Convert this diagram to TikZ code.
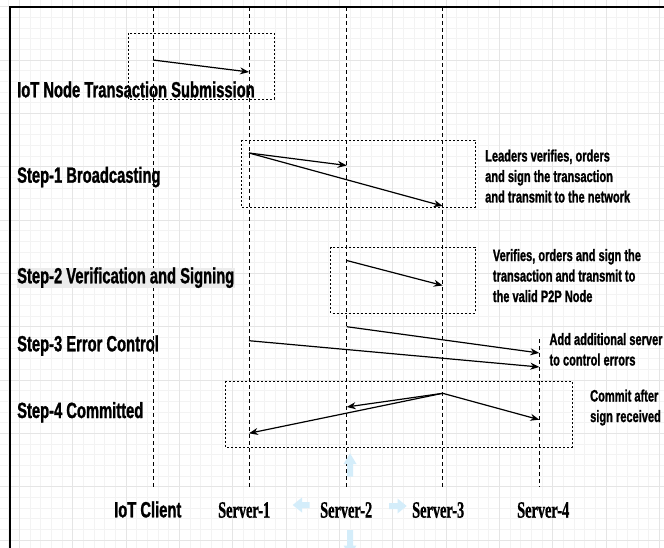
\documentclass[tikz,border=0pt]{standalone}
\usepackage{fontspec}
\usetikzlibrary{arrows.meta}
\newfontfamily\lblsans{Liberation Sans}[FakeStretch=0.67, FakeBold=1.2]
\newfontfamily\lblserif{Liberation Serif}[FakeStretch=0.61, FakeBold=0.8]
\definecolor{gridminor}{RGB}{243,243,243}
\definecolor{gridmajor}{RGB}{229,229,229}
\definecolor{hintblue}{RGB}{212,237,250}
\definecolor{labelbg}{RGB}{236,236,236}
\tikzset{
  lifeline/.style={draw=black, line width=0.9pt, dash pattern=on 4pt off 3pt},
  stagebox/.style={draw=black, line width=0.9pt, dash pattern=on 2pt off 2pt},
  msg/.style={draw=black, line width=1.2pt, -{Stealth[length=9pt,width=7pt]}},
  steplabel/.style={anchor=base west, inner sep=0pt, font=\lblsans\bfseries\fontsize{22}{26}\selectfont},
  note/.style={anchor=base west, inner sep=0pt, align=left, font=\lblsans\bfseries\fontsize{16.5}{20.5}\selectfont},
  actor/.style={anchor=base west, inner sep=0pt, font=\lblserif\bfseries\fontsize{23.5}{28}\selectfont},
  hint/.style={fill=hintblue, draw=none},
}
\begin{document}
\begin{tikzpicture}[x=1pt, y=-1pt]
\useasboundingbox (0,0) rectangle (664,548);
\clip (0,0) rectangle (664,548);
\fill[white] (0,0) rectangle (664,548);

% background grid
\foreach \i in {0,...,62}
  \draw[gridminor, line width=0.6pt] ({8.67+\i*10.667},0) -- ++(0,548);
\foreach \j in {-1,...,51}
  \draw[gridminor, line width=0.6pt] (0,{6.67+\j*10.667}) -- ++(664,0);
\foreach \i in {0,...,12}
  \draw[gridmajor, line width=0.7pt] ({19.33+\i*53.33},0) -- ++(0,548);
\foreach \j in {0,...,10}
  \draw[gridmajor, line width=0.7pt] (0,{6.67+\j*53.33}) -- ++(664,0);

% canvas border
\draw[line width=1.6pt] (10,548) -- (10,7) -- (664,7);

% stage frames
\draw[stagebox] (128,33) rectangle (274,99);
\draw[stagebox] (241,140) rectangle (475,207);
\draw[stagebox] (330.7,247) rectangle (475,313);
\draw[stagebox] (225,381) rectangle (572,447);

% lifelines
\coordinate (iot-top) at (153,7);     \coordinate (iot-bot) at (153,487);
\coordinate (s1-top)  at (249,7);     \coordinate (s1-bot)  at (249,487);
\coordinate (s2-top)  at (346.7,7);   \coordinate (s2-bot)  at (346.7,487);
\coordinate (s3-top)  at (442.7,7);   \coordinate (s3-bot)  at (442.7,487);
\coordinate (s4-top)  at (539.3,339); \coordinate (s4-bot)  at (539.3,487);
\draw[lifeline] (iot-top) -- (iot-bot);
\draw[lifeline] (s1-top) -- (s1-bot);
\draw[lifeline] (s2-top) -- (s2-bot);
\draw[lifeline] (s3-top) -- (s3-bot);
\draw[lifeline] (s4-top) -- (s4-bot);

% message end points
\coordinate (m0a) at (153,60);      \coordinate (m0b) at (249,72);
\coordinate (m1a) at (249,153);     \coordinate (m1b) at (346.7,165.5);
                                    \coordinate (m2b) at (442.7,206);
\coordinate (m3a) at (346.7,260.5); \coordinate (m3b) at (442.7,285.5);
\coordinate (m4a) at (346.7,326.7); \coordinate (m4b) at (539.3,353);
\coordinate (m5a) at (249,340.7);   \coordinate (m5b) at (539.3,367);
\coordinate (m6a) at (442.7,393.3); \coordinate (m6b) at (346.7,407);
                                    \coordinate (m7b) at (249,433.3);
                                    \coordinate (m8b) at (539.3,419.7);

% messages
\draw[msg] (m0a) -- (m0b);
\draw[msg] (m1a) -- (m1b);
\draw[msg] (m1a) -- (m2b);
\draw[msg] (m3a) -- (m3b);
\draw[msg] (m4a) -- (m4b);
\draw[msg] (m5a) -- (m5b);
\draw[msg] (m6a) -- (m6b);
\draw[msg] (m6a) -- (m7b);
\draw[msg] (m6a) -- (m8b);

% stage titles
\node[steplabel] (t0) at (17,97.3) {IoT Node Transaction Submission};
\node[steplabel] (t1) at (17,182.7) {Step-1 Broadcasting};
\fill[labelbg] (16.7,268.3) rectangle (235,287.7);
\node[steplabel] (t2) at (17,283.3) {Step-2 Verification and Signing};
\node[steplabel] (t3) at (17,351.3) {Step-3 Error Control};
\node[steplabel] (t4) at (17,418) {Step-4 Committed};

% side notes (base anchor sits on the last line)
\node[note] (n1) at (485,202.5) {Leaders verifies, orders\\and sign the transaction\\and transmit to the network};
\node[note] (n2) at (492.7,302) {Verifies, orders and sign the\\transaction and transmit to\\the valid P2P Node};
\node[note] (n3) at (549.3,365.5) {Add additional server\\to control errors};
\node[note] (n4) at (590,422) {Commit after\\sign received};

% participants
\node[steplabel] (p0) at (114,517.3) {IoT Client};
\node[actor] (p1) at (218,517.7) {Server-1};
\node[actor] (p2) at (320,517.7) {Server-2};
\node[actor] (p3) at (412,517.7) {Server-3};
\node[actor] (p4) at (517,517.7) {Server-4};

% faint connection hints around Server-2
\fill[hint] (292.7,505) -- (302,497.5) -- (302,502) -- (309.5,502) -- (309.5,508) -- (302,508) -- (302,512.5) -- cycle;
\fill[hint] (406.7,506) -- (397.5,498.5) -- (397.5,503) -- (389,503) -- (389,509) -- (397.5,509) -- (397.5,513.5) -- cycle;
\fill[hint] (350,453.3) -- (343.5,464) -- (347,464) -- (347,476.7) -- (353,476.7) -- (353,464) -- (356.5,464) -- cycle;
\fill[hint] (350,556) -- (343.5,545.5) -- (347,545.5) -- (347,530) -- (353,530) -- (353,545.5) -- (356.5,545.5) -- cycle;
\end{tikzpicture}
\end{document}
